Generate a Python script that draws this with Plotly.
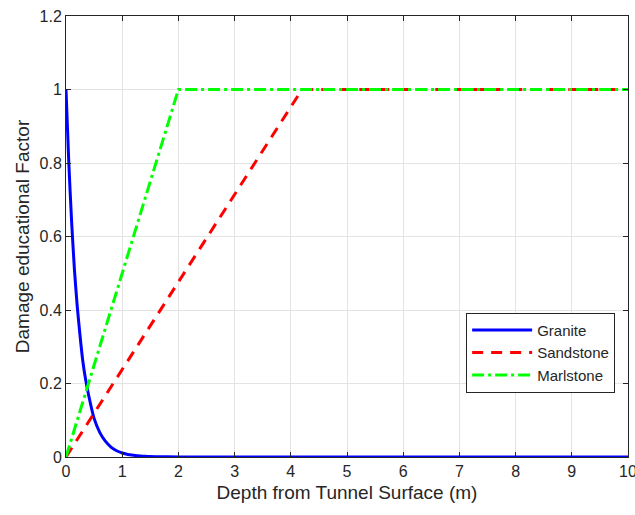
import plotly.graph_objects as go

granite_x = [0, 0.05, 0.1, 0.15, 0.2, 0.25, 0.3, 0.35, 0.4, 0.5, 0.6, 0.7, 0.8, 0.9, 1.0, 1.1, 1.2, 1.4, 1.6, 2.0, 3.0, 10.0]
granite_y = [1.0, 0.80, 0.64, 0.51, 0.41, 0.33, 0.26, 0.21, 0.17, 0.105, 0.067, 0.043, 0.027, 0.017, 0.011, 0.007, 0.005, 0.002, 0.001, 0.0, 0.0, 0.0]

sandstone_x = [0, 4.2, 10]
sandstone_y = [0, 1.0, 1.0]

marlstone_x = [0, 2.0, 10]
marlstone_y = [0, 1.0, 1.0]

x_ticks = [0, 1, 2, 3, 4, 5, 6, 7, 8, 9, 10]
y_ticks = [0, 0.2, 0.4, 0.6, 0.8, 1.0, 1.2]
y_labels = ["0", "0.2", "0.4", "0.6", "0.8", "1", "1.2"]

font = "Liberation Sans, Arial, sans-serif"
txt = "#262626"

fig = go.Figure()
fig.add_trace(go.Scatter(x=granite_x, y=granite_y, mode="lines", name="Granite",
                         line=dict(color="#0000FF", width=3, shape="spline", smoothing=0.6)))
fig.add_trace(go.Scatter(x=sandstone_x, y=sandstone_y, mode="lines", name="Sandstone",
                         line=dict(color="#FF0000", width=3, dash="11px,8px")))
fig.add_trace(go.Scatter(x=marlstone_x, y=marlstone_y, mode="lines", name="Marlstone",
                         line=dict(color="#00FF00", width=3, dash="12px,4px,3px,4px")))

axis_common = dict(showline=True, linecolor=txt, linewidth=1, mirror="allticks",
                   ticks="inside", ticklen=5, tickcolor=txt,
                   showgrid=True, gridcolor="#E3E3E3", gridwidth=1, zeroline=False,
                   tickfont=dict(family=font, size=16, color=txt),
                   ticklabeloverflow="allow", automargin=False)

fig.update_layout(
    width=635, height=515,
    margin=dict(l=66, r=7, t=16, b=58, autoexpand=False),
    paper_bgcolor="white", plot_bgcolor="white",
    font=dict(family=font, color=txt),
    showlegend=True,
    legend=dict(x=0.712, y=0.327, xanchor="left", yanchor="top",
                bordercolor=txt, borderwidth=1, bgcolor="white",
                font=dict(family=font, size=15, color=txt),
                tracegroupgap=0, itemwidth=60),
)
fig.update_xaxes(range=[0, 10], tickvals=x_ticks, **axis_common,
                 title=dict(text="Depth from Tunnel Surface (m)", font=dict(family=font, size=19, color=txt), standoff=6))
fig.update_yaxes(range=[0, 1.2], tickvals=y_ticks, ticktext=y_labels, **axis_common,
                 title=dict(text="Damage educational Factor", font=dict(family=font, size=19, color=txt), standoff=4))

fig.write_html("out.html")
